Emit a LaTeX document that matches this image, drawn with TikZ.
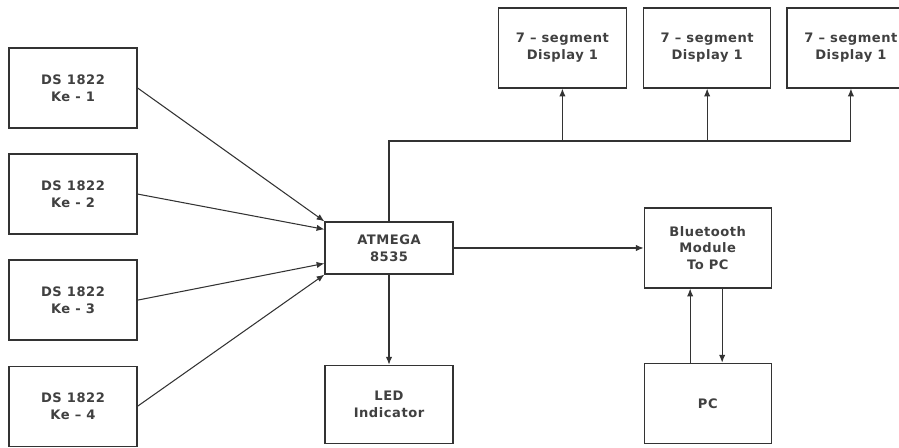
\documentclass[tikz,border=0pt]{standalone}
\usepackage{fontspec}
\setmainfont{DejaVu Sans}[LetterSpace=4]
\usetikzlibrary{arrows.meta,positioning,calc}
\definecolor{InkGrey}{HTML}{333333}
\definecolor{TextGrey}{HTML}{404040}
\tikzset{
  BX/.style={rectangle,draw=InkGrey,line width=0.9pt,
             minimum width=3.2cm,minimum height=2.0cm,
             text centered,align=center,inner sep=2pt,
             font=\fontsize{9.3}{12}\selectfont\bfseries,text=TextGrey},
  arr/.style={-{Latex[length=5.5pt,width=4.5pt]},line width=0.75pt,draw=InkGrey},
  ln/.style={line width=0.75pt,draw=InkGrey}
}

\begin{document}
\begin{tikzpicture}
  \useasboundingbox (0,0) rectangle (22.475,11.2);
  \clip (0,0) rectangle (22.475,11.2);
  % sensors
  \node[BX] (ds1) at (1.825,9.0) {DS 1822\\Ke - 1};
  \node[BX,below=0.62cm of ds1] (ds2) {DS 1822\\Ke - 2};
  \node[BX,below=0.62cm of ds2] (ds3) {DS 1822\\Ke - 3};
  \node[BX,below=0.62cm of ds3] (ds4) {DS 1822\\Ke -- 4};
  % controller and outputs
  \node[BX,minimum height=1.3cm] (atm) at (9.725,5.0) {ATMEGA\\8535};
  \node[BX,minimum height=1.95cm,below=2.25cm of atm] (led) {LED\\Indicator};
  \node[BX,minimum width=3.175cm,right=4.75cm of atm] (bt) {Bluetooth\\Module\\To PC};
  \node[BX,minimum width=3.175cm,minimum height=2.0cm,below=1.85cm of bt] (pc) {PC};
  \node[BX] (seg1) at (14.06,10.0) {7 -- segment\\Display 1};
  \node[BX,minimum width=3.175cm,right=0.4cm of seg1] (seg2) {7 -- segment\\Display 1};
  \node[BX,right=0.375cm of seg2] (seg3) {7 -- segment\\Display 1};
  \coordinate (bus) at (0,7.675);

  \draw[arr](ds1.east)--(atm.north west);
  \draw[arr](ds2.east)--($(atm.north west)!0.15!(atm.south west)$);
  \draw[arr](ds3.east)--($(atm.north west)!0.79!(atm.south west)$);
  \draw[arr](ds4.east)--(atm.south west);

  \draw[ln](atm.north)--(atm.north |- bus)--(seg3.south |- bus);
  \draw[arr](seg1.south |- bus)--(seg1.south);
  \draw[arr](seg2.south |- bus)--(seg2.south);
  \draw[arr](seg3.south |- bus)--(seg3.south);

  \draw[arr](atm)--(bt);
  \draw[arr](atm)--(led);
  \draw[arr]([xshift=-0.44cm]pc.north)--([xshift=-0.44cm]bt.south);
  \draw[arr]([xshift=0.36cm]bt.south)--([xshift=0.36cm]pc.north);
\end{tikzpicture}
\end{document}
